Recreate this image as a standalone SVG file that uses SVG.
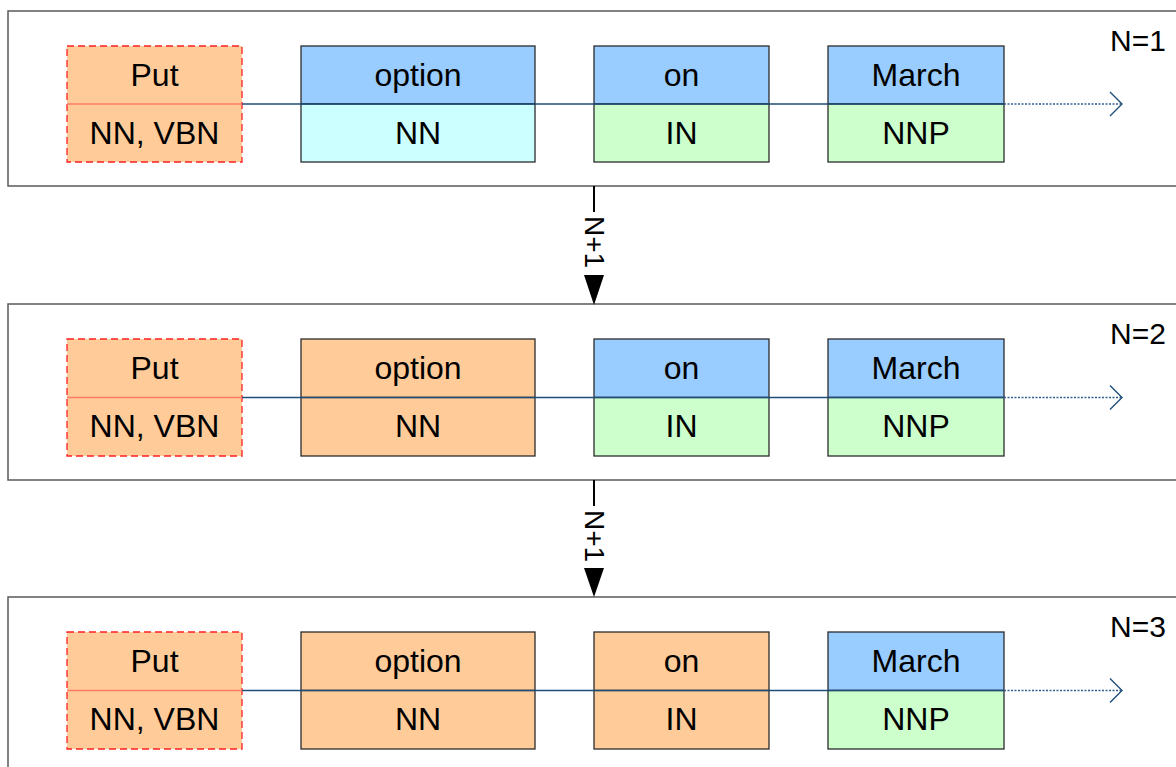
<svg xmlns="http://www.w3.org/2000/svg" width="1176" height="767" viewBox="0 0 1176 767">
  <style>
    .panel { fill: #ffffff; stroke: #5a5a5a; stroke-width: 1.5; }
    .cell { stroke: #2b2b2b; stroke-width: 1.3; }
    .orange { fill: #ffcc99; }
    .blue { fill: #99ccff; }
    .cyan { fill: #ccffff; }
    .green { fill: #ccffcc; }
    .dashed { fill: #ffcc99; stroke: #ff2020; stroke-width: 1.3; stroke-dasharray: 7 4; }
    .split { stroke: #ff7a6a; stroke-width: 1.3; }
    .lbl { font-family: "Liberation Sans", Arial, sans-serif; font-size: 32px; fill: #000; text-anchor: middle; }
    .tag { font-family: "Liberation Sans", Arial, sans-serif; font-size: 30px; fill: #000; }
    .step-lbl { font-family: "Liberation Sans", Arial, sans-serif; font-size: 28px; fill: #000; text-anchor: middle; dominant-baseline: central; }
    .flow { fill: none; stroke: #1f4e79; stroke-width: 1.4; }
    .flow-dot { fill: none; stroke: #2f5f95; stroke-width: 1.4; stroke-dasharray: 2 1.5; }
    .step { fill: none; stroke: #000; stroke-width: 2; }
    .head { fill: #000; }
  </style>

  <!-- Panel N=1 -->
  <g id="panel1">
    <rect class="panel" x="8" y="11" width="1180" height="175"/>
    <text class="tag" x="1110" y="51">N=1</text>
    <g id="p1-put">
      <rect class="dashed" x="67" y="46" width="175" height="116"/>
      <line class="split" x1="67" y1="104" x2="242" y2="104"/>
      <text class="lbl" x="154.5" y="86">Put</text>
      <text class="lbl" x="154.5" y="144">NN, VBN</text>
    </g>
    <g id="p1-option">
      <rect class="cell blue" x="301" y="46" width="234" height="58"/>
      <rect class="cell cyan" x="301" y="104" width="234" height="58"/>
      <text class="lbl" x="418" y="86">option</text>
      <text class="lbl" x="418" y="144">NN</text>
    </g>
    <g id="p1-on">
      <rect class="cell blue" x="594" y="46" width="175" height="58"/>
      <rect class="cell green" x="594" y="104" width="175" height="58"/>
      <text class="lbl" x="681.5" y="86">on</text>
      <text class="lbl" x="681.5" y="144">IN</text>
    </g>
    <g id="p1-march">
      <rect class="cell blue" x="828" y="46" width="176" height="58"/>
      <rect class="cell green" x="828" y="104" width="176" height="58"/>
      <text class="lbl" x="916" y="86">March</text>
      <text class="lbl" x="916" y="144">NNP</text>
    </g>
  </g>

  <!-- Panel N=2 -->
  <g id="panel2">
    <rect class="panel" x="8" y="304" width="1180" height="176"/>
    <text class="tag" x="1110" y="344">N=2</text>
    <g id="p2-put">
      <rect class="dashed" x="67" y="339" width="175" height="117"/>
      <line class="split" x1="67" y1="397.5" x2="242" y2="397.5"/>
      <text class="lbl" x="154.5" y="379">Put</text>
      <text class="lbl" x="154.5" y="437">NN, VBN</text>
    </g>
    <g id="p2-option">
      <rect class="cell orange" x="301" y="339" width="234" height="58.5"/>
      <rect class="cell orange" x="301" y="397.5" width="234" height="58.5"/>
      <text class="lbl" x="418" y="379">option</text>
      <text class="lbl" x="418" y="437">NN</text>
    </g>
    <g id="p2-on">
      <rect class="cell blue" x="594" y="339" width="175" height="58.5"/>
      <rect class="cell green" x="594" y="397.5" width="175" height="58.5"/>
      <text class="lbl" x="681.5" y="379">on</text>
      <text class="lbl" x="681.5" y="437">IN</text>
    </g>
    <g id="p2-march">
      <rect class="cell blue" x="828" y="339" width="176" height="58.5"/>
      <rect class="cell green" x="828" y="397.5" width="176" height="58.5"/>
      <text class="lbl" x="916" y="379">March</text>
      <text class="lbl" x="916" y="437">NNP</text>
    </g>
  </g>

  <!-- Panel N=3 -->
  <g id="panel3">
    <rect class="panel" x="8" y="597" width="1180" height="190"/>
    <text class="tag" x="1110" y="637">N=3</text>
    <g id="p3-put">
      <rect class="dashed" x="67" y="632" width="175" height="117"/>
      <line class="split" x1="67" y1="690.5" x2="242" y2="690.5"/>
      <text class="lbl" x="154.5" y="672">Put</text>
      <text class="lbl" x="154.5" y="730">NN, VBN</text>
    </g>
    <g id="p3-option">
      <rect class="cell orange" x="301" y="632" width="234" height="58.5"/>
      <rect class="cell orange" x="301" y="690.5" width="234" height="58.5"/>
      <text class="lbl" x="418" y="672">option</text>
      <text class="lbl" x="418" y="730">NN</text>
    </g>
    <g id="p3-on">
      <rect class="cell orange" x="594" y="632" width="175" height="58.5"/>
      <rect class="cell orange" x="594" y="690.5" width="175" height="58.5"/>
      <text class="lbl" x="681.5" y="672">on</text>
      <text class="lbl" x="681.5" y="730">IN</text>
    </g>
    <g id="p3-march">
      <rect class="cell blue" x="828" y="632" width="176" height="58.5"/>
      <rect class="cell green" x="828" y="690.5" width="176" height="58.5"/>
      <text class="lbl" x="916" y="672">March</text>
      <text class="lbl" x="916" y="730">NNP</text>
    </g>
  </g>

  <!-- Connectors -->
  <g id="connectors">
    <!-- token sequence lines -->
    <line class="flow" x1="242" y1="104" x2="1004" y2="104"/>
    <line class="flow-dot" x1="1004" y1="104" x2="1121" y2="104"/>
    <polyline class="flow" points="1110,92 1122,104 1110,116"/>

    <line class="flow" x1="242" y1="397.5" x2="1004" y2="397.5"/>
    <line class="flow-dot" x1="1004" y1="397.5" x2="1121" y2="397.5"/>
    <polyline class="flow" points="1110,385.5 1122,397.5 1110,409.5"/>

    <line class="flow" x1="242" y1="690.5" x2="1004" y2="690.5"/>
    <line class="flow-dot" x1="1004" y1="690.5" x2="1121" y2="690.5"/>
    <polyline class="flow" points="1110,678.5 1122,690.5 1110,702.5"/>

    <!-- step arrows between panels -->
    <line class="step" x1="594" y1="186" x2="594" y2="212"/>
    <polygon class="head" points="584,275 604,275 594,305"/>
    <text class="step-lbl" transform="translate(594 242) rotate(90)">N+1</text>

    <line class="step" x1="594" y1="480" x2="594" y2="506"/>
    <polygon class="head" points="584,568 604,568 594,597"/>
    <text class="step-lbl" transform="translate(594 536) rotate(90)">N+1</text>
  </g>
</svg>
